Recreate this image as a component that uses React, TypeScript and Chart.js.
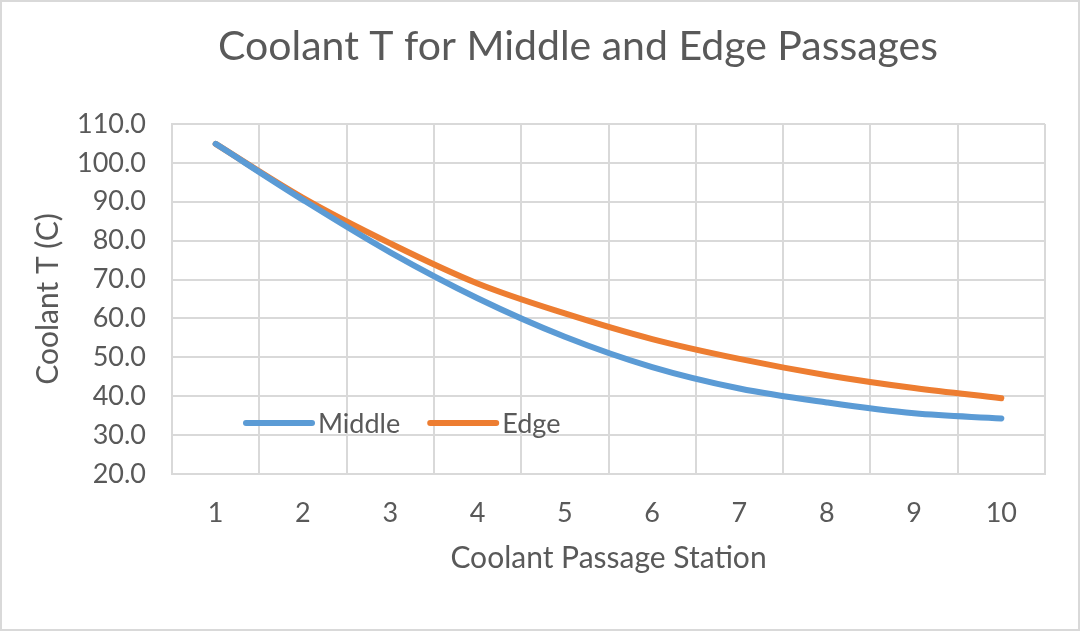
import React, { useEffect, useRef } from "react";
import { Chart, registerables } from "chart.js";

Chart.register(...registerables);

const stations = ["1", "2", "3", "4", "5", "6", "7", "8", "9", "10"];
const middleT = [104.9, 90.5, 77.0, 65.2, 55.3, 47.5, 42.0, 38.4, 35.6, 34.3];
const edgeT = [104.9, 91.0, 79.3, 69.0, 61.3, 54.7, 49.6, 45.4, 42.1, 39.5];
const seriesNames = ["Middle", "Edge"];
const seriesColors = ["#5B9BD5", "#ED7D31"];
const chartTitle = "Coolant T for Middle and Edge Passages";
const xTitle = "Coolant Passage Station";
const yTitle = "Coolant T (C)";
const yMin = 20;
const yMax = 110;
const yStep = 10;

const FONT = "Lato, 'Open Sans', sans-serif";
const TEXT = "#595959";
const GRID = "#d9d9d9";

const titleAndLegend = {
  id: "titleAndLegend",
  afterDraw(chart: any) {
    const { ctx, chartArea } = chart;
    ctx.save();
    // chart title
    ctx.font = `41px ${FONT}`;
    ctx.fillStyle = TEXT;
    ctx.textAlign = "center";
    ctx.textBaseline = "middle";
    ctx.fillText(chartTitle, 578, 47);
    // legend inside plot area
    const y = chartArea.top + (chartArea.bottom - chartArea.top) * 0.854;
    let x = chartArea.left + 74;
    ctx.font = `27px ${FONT}`;
    ctx.textAlign = "left";
    chart.data.datasets.forEach((ds: any) => {
      ctx.strokeStyle = ds.borderColor;
      ctx.lineWidth = 6;
      ctx.lineCap = "round";
      ctx.beginPath();
      ctx.moveTo(x, y);
      ctx.lineTo(x + 66, y);
      ctx.stroke();
      ctx.fillStyle = TEXT;
      ctx.fillText(ds.label, x + 72, y + 1);
      x += 72 + ctx.measureText(ds.label).width + 30;
    });
    ctx.restore();
  },
};

export default function App() {
  const ref = useRef<HTMLCanvasElement>(null);
  useEffect(() => {
    if (!ref.current) return;
    const mk = (i: number, data: number[]) => ({
      label: seriesNames[i],
      data,
      borderColor: seriesColors[i],
      backgroundColor: seriesColors[i],
      borderWidth: 6,
      pointRadius: 0,
      tension: 0.35,
      borderCapStyle: "round",
      borderJoinStyle: "round",
    });
    const chart = new Chart(ref.current, {
      type: "line",
      data: {
        labels: stations,
        datasets: [mk(0, middleT), mk(1, edgeT)],
      },
      options: {
        animation: false,
        responsive: false,
        maintainAspectRatio: false,
        layout: { padding: { left: 0, right: 35, top: 124, bottom: 0 } },
        plugins: {
          legend: { display: false },
          tooltip: { enabled: false },
          title: { display: false },
        },
        scales: {
          x: {
            offset: true,
            grid: { color: GRID, lineWidth: 2, offset: true, drawTicks: false },
            border: { color: GRID, width: 2 },
            ticks: { color: TEXT, font: { family: FONT, size: 27 }, padding: 23 },
            title: {
              display: true,
              text: xTitle,
              color: TEXT,
              font: { family: FONT, size: 30 },
              padding: { top: 0, bottom: 55 },
            },
            afterFit: (s: any) => {
              s.height = 157;
            },
          },
          y: {
            min: yMin,
            max: yMax,
            grid: { color: GRID, lineWidth: 2, drawTicks: false },
            border: { color: GRID, width: 2 },
            ticks: {
              stepSize: yStep,
              color: TEXT,
              font: { family: FONT, size: 27 },
              padding: 26,
              callback: (v: any) => Number(v).toFixed(1),
            },
            title: {
              display: true,
              text: yTitle,
              color: TEXT,
              font: { family: FONT, size: 30 },
              padding: { top: 30, bottom: 0 },
            },
            afterFit: (s: any) => {
              s.width = 172;
            },
          },
        },
      },
      plugins: [titleAndLegend],
    } as any);
    return () => chart.destroy();
  }, []);
  return (
    <div
      style={{
        position: "absolute",
        left: 0,
        top: 0,
        width: 1080,
        height: 631,
        background: "#fff",
        outline: "2px solid #d9d9d9",
        outlineOffset: -2,
      }}
    >
      <canvas ref={ref} width={1080} height={631} style={{ display: "block" }} />
    </div>
  );
}
